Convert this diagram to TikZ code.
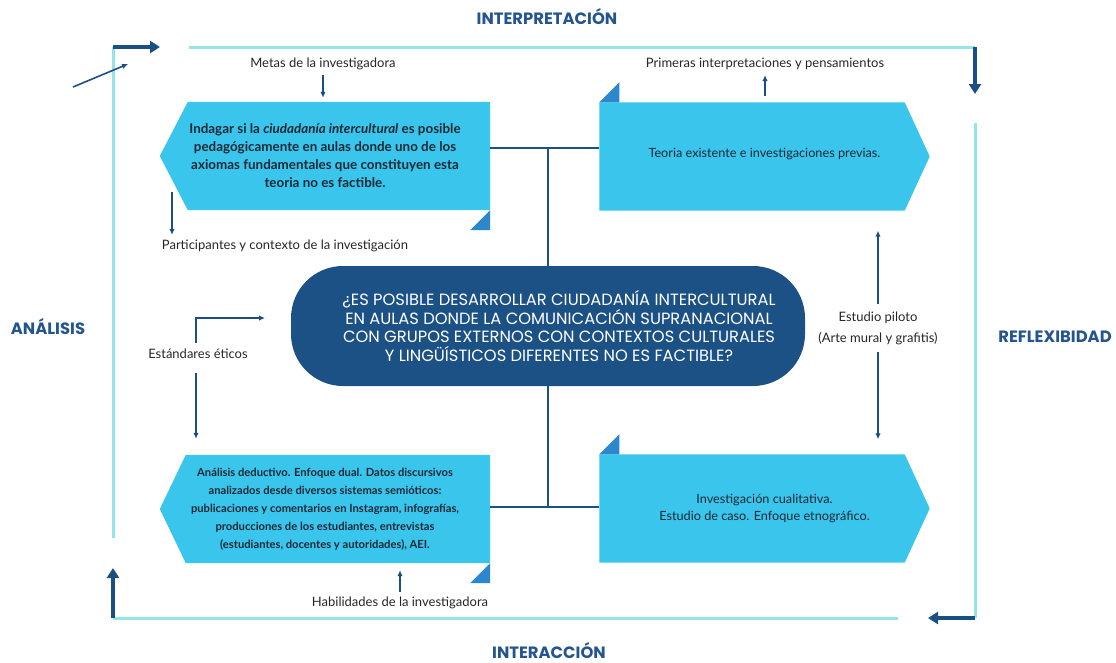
\documentclass[tikz,border=0pt]{standalone}
\usepackage{fontspec}
\setmainfont{Lato}
\newfontfamily\headfont{Poppins}
\usetikzlibrary{positioning, arrows.meta, calc, backgrounds}
\definecolor{mycyan}{RGB}{57,197,236}
\definecolor{myfold}{RGB}{43,136,207}
\definecolor{mynavy}{RGB}{28,81,134}
\definecolor{myframe}{RGB}{148,228,232}
\definecolor{myarrow}{RGB}{26,79,133}
\definecolor{mytitle}{RGB}{36,85,143}
\definecolor{mytext}{RGB}{30,40,52}
\definecolor{mylabel}{RGB}{38,38,38}
\newcommand{\qshift}{\hspace*{22pt}}
\tikzset{
  card/.style={draw=none, inner sep=0, minimum width=330pt, minimum height=108pt,
    align=center, text=mytext},
  boldcard/.style={card, font=\bfseries\fontsize{11.2}{18}\selectfont},
  plaincard/.style={card, font=\fontsize{12.7}{17}\selectfont},
  question/.style={draw=none, fill=mynavy, rounded corners=52pt, inner sep=0,
    minimum width=514pt, minimum height=120pt, align=center, text=white,
    font=\headfont\fontsize{16.3}{18.4}\selectfont},
  smalllbl/.style={inner sep=1pt, align=center, text=mylabel,
    font=\fontsize{13}{21}\selectfont},
  biglbl/.style={inner sep=0, anchor=base, text=mytitle,
    font=\headfont\bfseries\fontsize{16.4}{18}\selectfont},
  thinarrow/.style={-{Latex[length=6pt,width=5.5pt]}, line width=1.6pt, color=myarrow},
  hub/.style={line width=2.6pt, color=mynavy},
  cornerarrow/.style={-{Triangle[length=10pt,width=12pt]}, line width=3.4pt, color=myarrow},
  frameline/.style={line width=3pt, color=myframe}
}

\begin{document}
\begin{tikzpicture}[x=1pt, y=-1pt]
\useasboundingbox (0,0) rectangle (1116,662);

% cards
\node [boldcard, font=\bfseries\fontsize{13.4}{18}\selectfont] (metas) at (325,156)
  {Indagar si la \textit{ciudadanía intercultural} es posible\\
  pedagógicamente en aulas donde uno de los\\
  axiomas fundamentales que constituyen esta\\
  teoria no es factible.};
\node [plaincard] (teoria) at (764.5,156.5) {\raisebox{8pt}{Teoria existente e investigaciones previas.}};
\node [boldcard] (analisis) at (325,509) {Análisis deductivo. Enfoque dual. Datos discursivos\\
  analizados desde diversos sistemas semióticos:\\
  publicaciones y comentarios en Instagram, infografías,\\
  producciones de los estudiantes, entrevistas\\
  (estudiantes, docentes y autoridades), AEI.};
\node [plaincard] (cualit) at (764.5,508.5) {Investigación cualitativa.\\
  Estudio de caso. Enfoque etnográfico.};

\begin{pgfonlayer}{background}
\fill[mycyan] (metas.north east) -- ($(metas.north west)+(28,0)$) -- (metas.west)
  -- ($(metas.south west)+(28,0)$) -- (metas.south east) -- cycle;
\fill[myfold] (metas.south east) -- ++(0,20) -- ++(-20,0) -- cycle;
\fill[mycyan] (teoria.north west) -- ($(teoria.north east)+(-25,0)$) -- (teoria.east)
  -- ($(teoria.south east)+(-25,0)$) -- (teoria.south west) -- cycle;
\fill[myfold] (teoria.north west) -- ++(20,0) -- ++(0,-20) -- cycle;
\fill[mycyan] (analisis.north east) -- ($(analisis.north west)+(26,0)$) -- (analisis.west)
  -- ($(analisis.south west)+(26,0)$) -- (analisis.south east) -- cycle;
\fill[myfold] (analisis.south east) -- ++(0,20) -- ++(-20,0) -- cycle;
\fill[mycyan] (cualit.north west) -- ($(cualit.north east)+(-25,0)$) -- (cualit.east)
  -- ($(cualit.south east)+(-25,0)$) -- (cualit.south west) -- cycle;
\fill[myfold] (cualit.north west) -- ++(20,0) -- ++(0,-20) -- cycle;
\end{pgfonlayer}

% central question
\node [question] (pregunta) at (548,326) {\qshift¿ES POSIBLE DESARROLLAR CIUDADANÍA INTERCULTURAL\\
  \qshift EN AULAS DONDE LA COMUNICACIÓN SUPRANACIONAL\\
  \qshift CON GRUPOS EXTERNOS CON CONTEXTOS CULTURALES\\
  \qshift Y LINGÜÍSTICOS DIFERENTES NO ES FACTIBLE?};

\coordinate (hubtop) at (548,148);
\coordinate (hubbot) at (548,507);
\draw[hub] (metas.east |- hubtop) -- (teoria.west |- hubtop);
\draw[hub] (hubtop) -- (pregunta.north -| hubtop);
\draw[hub] (analisis.east |- hubbot) -- (cualit.west |- hubbot);
\draw[hub] (pregunta.south -| hubbot) -- (hubbot);

% small labels
\node [smalllbl] (metaslbl) at (323,64) {Metas de la investigadora};
\node [smalllbl] (primlbl) at (765,64) {Primeras interpretaciones y pensamientos};
\node [smalllbl] (partlbl) at (285,246) {Participantes y contexto de la investigación};
\node [smalllbl] (estlbl) at (198,354) {Estándares éticos};
\node [smalllbl] (hablbl) at (400,603) {Habilidades de la investigadora};
\node [smalllbl] (pilotolbl) at (878,328) {Estudio piloto\\(Arte mural y grafitis)};

\draw[thinarrow, shorten <=4pt, shorten >=4pt] (metaslbl.south) -- (metaslbl.south |- metas.north);
\draw[thinarrow, shorten <=6pt, shorten >=4pt] (primlbl.south |- teoria.north) -- (primlbl.south);
\coordinate (partarr) at (172,192);
\draw[thinarrow, shorten >=4pt] (partarr) -- (partarr |- partlbl.north);
\coordinate (estup) at (196,318);
\draw[thinarrow, shorten <=5pt] (estlbl.north -| estup) -- (estup) -- ++(69,0);
\draw[thinarrow, shorten <=13pt, shorten >=16pt] (estlbl.south -| estup) -- (estup |- analisis.north);
\draw[thinarrow, shorten <=4pt, shorten >=7pt] (hablbl.north) -- (hablbl.north |- analisis.south);
\draw[thinarrow, shorten <=6pt, shorten >=20pt] (pilotolbl.north) -- (pilotolbl.north |- teoria.south);
\draw[thinarrow, shorten <=6pt, shorten >=15pt] (pilotolbl.south) -- (pilotolbl.south |- cualit.north);

% outer cycle
\node [biglbl] (interp) at (547,24) {INTERPRETACIÓN};
\node [biglbl] (interac) at (549,658) {INTERACCIÓN};
\node [biglbl] (analbl) at (48,334) {ANÁLISIS};
\node [biglbl] (reflbl) at (1055,342) {REFLEXIBIDAD};

\coordinate (ctl) at (113,47);
\coordinate (ctr) at (975,47);
\coordinate (cbr) at (975,618);
\coordinate (cbl) at (113,618);
\draw[frameline] (ctl) -- (113,538);
\draw[frameline] (189,47) -- (ctr);
\draw[frameline] (975,123) -- (cbr);
\draw[frameline] (898,618) -- (cbl);
\draw[cornerarrow] (ctl) -- ++(47,0);
\draw[cornerarrow] (ctr) -- ++(0,47);
\draw[cornerarrow] (cbr) -- ++(-47,0);
\draw[cornerarrow] (cbl) -- ++(0,-50);

\coordinate (diagstart) at (73,87);
\draw[thinarrow] (diagstart) -- (128,64);

\end{tikzpicture}
\end{document}
